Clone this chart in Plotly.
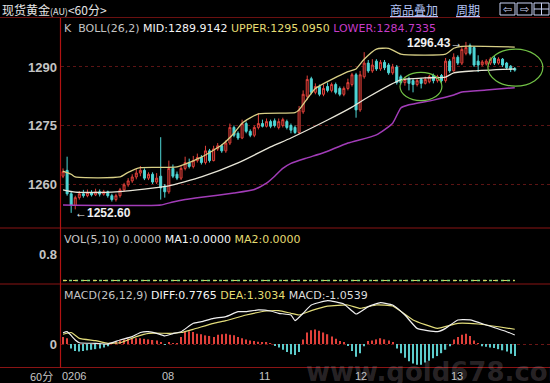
import plotly.graph_objects as go

# ---------------- data ----------------
idx = list(range(112))  # 60-minute bars

open_ = [1262.0, 1263.5, 1257.5, 1254.5, 1256.5, 1257.5, 1257.0, 1257.8, 1257.2, 1258.0,
         1257.4, 1258.0, 1257.0, 1256.0, 1257.0, 1258.5, 1259.8, 1260.8, 1261.8, 1262.8,
         1263.5, 1261.5, 1262.5, 1260.5, 1262.0, 1259.5, 1258.0, 1264.0, 1262.5, 1261.5,
         1264.0, 1265.5, 1264.5, 1266.0, 1266.8, 1265.5, 1268.5, 1266.0, 1269.0, 1269.8,
         1268.5, 1270.5, 1274.5, 1273.0, 1271.8, 1275.5, 1273.5, 1272.5, 1274.5, 1275.5,
         1274.8, 1276.0, 1276.2, 1274.5, 1275.0, 1276.0, 1275.0, 1274.5, 1273.2, 1278.5,
         1282.5, 1287.0, 1283.5, 1285.0, 1283.0, 1285.0, 1284.0, 1285.5, 1284.5, 1283.0,
         1284.5, 1285.5, 1288.0, 1279.0, 1287.5, 1291.0, 1289.0, 1291.5, 1289.5, 1291.2,
         1290.5, 1288.5, 1290.0, 1287.5, 1286.0, 1287.0, 1286.5, 1285.5, 1286.8, 1285.8,
         1286.2, 1287.8, 1286.5, 1287.8, 1286.5, 1291.5, 1289.0, 1292.5, 1291.0, 1293.5,
         1295.5, 1295.0, 1291.5, 1290.6, 1290.8, 1291.0, 1292.3, 1291.0, 1292.0, 1291.0,
         1290.2, 1289.6]
close_ = [1263.2, 1257.5, 1254.5, 1256.5, 1257.5, 1257.0, 1257.8, 1257.2, 1258.0, 1257.4,
          1258.0, 1257.0, 1256.0, 1257.0, 1258.5, 1259.8, 1260.8, 1261.8, 1262.8, 1263.5,
          1261.5, 1262.5, 1260.5, 1261.5, 1259.0, 1258.0, 1264.0, 1262.0, 1261.5, 1264.0,
          1265.5, 1264.5, 1266.0, 1266.8, 1265.5, 1268.5, 1266.0, 1269.0, 1269.8, 1268.5,
          1270.5, 1274.5, 1272.5, 1271.8, 1275.5, 1273.5, 1272.5, 1274.5, 1275.5, 1274.8,
          1276.0, 1274.8, 1275.0, 1276.0, 1276.5, 1274.5, 1273.8, 1273.2, 1279.0, 1283.0,
          1286.8, 1283.5, 1285.0, 1283.0, 1284.5, 1284.0, 1285.5, 1283.5, 1283.0, 1284.5,
          1286.0, 1288.0, 1279.0, 1288.0, 1291.0, 1289.0, 1290.5, 1289.5, 1291.2, 1289.8,
          1288.5, 1290.0, 1286.0, 1286.0, 1286.8, 1285.8, 1285.5, 1286.5, 1285.8, 1286.8,
          1287.5, 1286.5, 1287.5, 1286.5, 1291.5, 1289.0, 1292.5, 1291.0, 1294.5, 1295.0,
          1293.5, 1290.5, 1290.5, 1291.3, 1291.5, 1292.0, 1291.0, 1292.0, 1290.5, 1289.8,
          1289.4, 1289.2]
high_ = [1264.0, 1267.0, 1258.0, 1257.0, 1258.2, 1258.5, 1258.6, 1258.4, 1258.8, 1258.6,
         1258.5, 1258.3, 1257.5, 1257.5, 1259.0, 1260.3, 1261.5, 1262.5, 1263.8, 1264.6,
         1264.0, 1263.0, 1263.0, 1262.8, 1272.0, 1260.0, 1266.0, 1265.0, 1263.2, 1264.8,
         1267.0, 1266.5, 1267.2, 1267.8, 1267.4, 1269.8, 1269.0, 1269.8, 1270.5, 1270.2,
         1271.2, 1275.5, 1275.0, 1273.5, 1276.5, 1276.0, 1274.0, 1275.0, 1278.2, 1276.5,
         1276.8, 1276.5, 1276.8, 1276.8, 1277.0, 1276.5, 1275.5, 1275.0, 1280.0, 1284.0,
         1287.8, 1287.5, 1285.8, 1285.5, 1285.5, 1286.0, 1286.0, 1286.0, 1285.0, 1285.0,
         1287.0, 1288.5, 1288.5, 1289.0, 1293.8, 1291.8, 1292.0, 1292.0, 1291.8, 1291.8,
         1291.0, 1290.8, 1290.5, 1288.0, 1287.5, 1287.5, 1287.0, 1287.0, 1287.2, 1287.5,
         1288.0, 1288.3, 1288.0, 1288.2, 1292.3, 1292.0, 1293.5, 1293.0, 1295.1, 1296.43,
         1296.0, 1295.3, 1293.0, 1291.8, 1292.0, 1292.5, 1292.8, 1292.5, 1292.3, 1291.3,
         1290.5, 1290.0]
low_ = [1261.5, 1257.0, 1252.6, 1253.5, 1256.0, 1256.5, 1256.6, 1256.8, 1256.9, 1256.8,
        1257.0, 1256.5, 1255.5, 1255.5, 1256.5, 1258.0, 1259.3, 1260.3, 1261.2, 1262.0,
        1261.0, 1261.0, 1260.0, 1260.0, 1256.0, 1256.5, 1257.5, 1261.5, 1261.0, 1261.0,
        1263.5, 1264.0, 1264.0, 1265.5, 1265.0, 1265.0, 1265.5, 1265.8, 1268.5, 1268.0,
        1268.0, 1270.0, 1272.0, 1271.3, 1271.5, 1273.0, 1272.0, 1272.0, 1274.0, 1274.5,
        1274.5, 1274.3, 1274.5, 1274.0, 1274.5, 1274.0, 1273.0, 1272.8, 1272.8, 1278.0,
        1281.5, 1283.0, 1283.0, 1282.5, 1282.5, 1283.5, 1283.5, 1283.0, 1282.5, 1282.5,
        1284.0, 1285.0, 1277.0, 1278.5, 1287.0, 1288.5, 1288.5, 1289.0, 1289.0, 1289.2,
        1288.0, 1288.0, 1285.5, 1285.5, 1285.2, 1284.0, 1283.5, 1285.0, 1284.5, 1285.5,
        1285.8, 1285.8, 1286.0, 1286.0, 1286.0, 1288.5, 1288.8, 1290.5, 1290.5, 1293.0,
        1293.0, 1290.0, 1288.7, 1290.2, 1290.4, 1290.5, 1290.5, 1290.6, 1290.0, 1289.3,
        1288.7, 1288.8]

# Bollinger bands (read at sample bars)
upper_x = [0, 2, 3, 14, 16, 19, 28, 34, 39, 42, 44, 48, 57, 58, 62, 70, 72, 74, 77, 80, 83, 94, 96, 98, 111]
upper_y = [1263.3, 1262.5, 1261.8, 1261.8, 1263.0, 1264.2, 1264.4, 1266.9, 1270.0, 1273.0, 1275.6, 1278.0,
           1278.3, 1279.0, 1284.5, 1288.8, 1289.5, 1292.0, 1294.6, 1294.8, 1293.3, 1293.3, 1294.8, 1295.3, 1295.1]
mid_x = [0, 3, 12, 24, 26, 34, 43, 51, 56, 65, 71, 75, 83, 89, 94, 96, 101, 111]
mid_y = [1258.5, 1257.9, 1257.9, 1259.2, 1259.5, 1261.8, 1265.4, 1269.5, 1271.8, 1276.4, 1279.7, 1282.3,
         1286.7, 1287.2, 1287.4, 1288.5, 1289.0, 1289.5]
lower_x = [0, 24, 27, 30, 34, 42, 47, 50, 52, 54, 56, 60, 64, 70, 77, 81, 83, 85, 91, 96, 98, 104, 111]
lower_y = [1254.6, 1254.6, 1255.4, 1256.0, 1256.6, 1257.7, 1258.6, 1260.2, 1262.0, 1264.0, 1265.3, 1266.7,
           1268.0, 1270.5, 1272.6, 1275.6, 1279.5, 1280.3, 1281.5, 1282.8, 1283.6, 1284.1, 1284.7]

# Volume (all zero in the source)
vol = [0.0] * 112

# MACD
diff_x = [0, 1, 3, 4, 8, 11, 14, 17, 19, 21, 23, 25, 27, 29, 32, 34, 37, 40, 43, 45, 48, 51, 53, 56, 57,
          59, 61, 65, 69, 72, 75, 78, 81, 84, 87, 92, 94, 97, 100, 104, 109, 111]
diff_y = [0.98, 1.07, 0.35, 0.11, 0.06, 0.0, 0.35, 0.64, 1.0, 1.07, 0.93, 0.7, 0.9, 1.07, 1.8, 1.94, 2.23,
          2.38, 2.81, 2.81, 2.96, 2.87, 2.67, 2.52, 2.03, 2.67, 3.39, 3.77, 3.48, 2.61, 3.25, 3.59, 3.39,
          2.52, 1.36, 1.07, 1.36, 2.09, 2.09, 1.65, 1.07, 0.78]
dea_x = [0, 2, 4, 8, 11, 14, 18, 21, 26, 29, 32, 37, 40, 45, 50, 53, 56, 58, 61, 65, 70, 73, 77, 81, 86,
         92, 97, 102, 107, 111]
dea_y = [0.85, 1.0, 0.49, 0.29, 0.06, 0.11, 0.64, 0.93, 0.93, 1.0, 1.28, 1.8, 2.03, 2.52, 2.87, 2.9, 2.67,
         2.52, 2.9, 3.3, 3.39, 3.1, 3.39, 3.3, 2.09, 1.36, 1.8, 1.74, 1.5, 1.28]
macd_hist = [0.6, 0.5, -0.4, -0.6, -0.65, -0.6, -0.55, -0.5, -0.45, -0.4,
             -0.3, -0.2, 0.05, 0.15, 0.3, 0.4, 0.45, 0.5, 0.5, 0.5,
             0.45, 0.4, 0.35, 0.3, 0.15, -0.05, 0.1, 0.05, 0.02, 0.6,
             1.05, 1.1, 1.05, 0.9, 0.85, 0.75, 0.7, 0.6, 0.8, 0.85,
             0.9, 0.8, 0.75, 0.6, 0.5, 0.4, 0.3, 0.25, 0.2, 0.15,
             0.1, 0.05, -0.1, -0.3, -0.5, -0.7, -0.9, -0.95, -0.7, 0.4,
             1.0, 1.2, 1.25, 1.15, 1.0, 0.85, 0.65, 0.45, 0.25, 0.1,
             -0.1, -0.6, -1.1, -0.8, -0.2, 0.25, 0.3, 0.4, 0.5, 0.4,
             0.3, 0.1, -0.4, -0.8, -1.2, -1.5, -1.7, -1.8, -1.8, -1.6,
             -1.45, -1.25, -1.05, -0.8, -0.5, -0.2, 0.4, 0.6, 0.8, 0.9,
             0.7, 0.3, 0.05, -0.2, -0.25, -0.3, -0.35, -0.45, -0.55, -0.65,
             -0.85, -1.05]

price_ticks = [1260, 1275, 1290]
vol_ticks = [0.8]
macd_ticks = [0]
day_ticks = [2.6, 25.8, 49.6, 73.2, 96.8]
day_labels = ["0206", "08", "11", "12", "13"]

low_label = "←1252.60"
high_label = "1296.43→"

# ---------------- figure ----------------
W, H = 550, 383
ML, MR, MT, MB = 61, 0, 18, 16
PW, PH = W - ML - MR, H - MT - MB


def px(xp):
    return (xp - ML) / PW


def py(yp):
    return (H - MB - yp) / PH


RED = "#e0403a"
CYAN = "#4fd6d6"
GRIDRED = "#5c1414"
SEP = "#8a1414"
LABEL = "#c4c4c4"

fig = go.Figure()

fig.add_trace(go.Candlestick(
    x=idx, open=open_, high=high_, low=low_, close=close_,
    increasing=dict(line=dict(color=RED, width=1), fillcolor="#3a0e0c"),
    decreasing=dict(line=dict(color=CYAN, width=1), fillcolor=CYAN),
    whiskerwidth=0, showlegend=False, hoverinfo="skip", xaxis="x", yaxis="y"))

fig.add_trace(go.Scatter(x=upper_x, y=upper_y, mode="lines", line=dict(color="#d8cf86", width=1.3, shape="spline", smoothing=0.5),
                         showlegend=False, hoverinfo="skip", yaxis="y"))
fig.add_trace(go.Scatter(x=mid_x, y=mid_y, mode="lines", line=dict(color="#e8e6d8", width=1.3, shape="spline", smoothing=0.5),
                         showlegend=False, hoverinfo="skip", yaxis="y"))
fig.add_trace(go.Scatter(x=lower_x, y=lower_y, mode="lines", line=dict(color="#a23cb8", width=1.5, shape="spline", smoothing=0.5),
                         showlegend=False, hoverinfo="skip", yaxis="y"))

# volume panel
fig.add_trace(go.Scatter(x=idx, y=vol, mode="lines", line=dict(color="#7fe07f", width=1.5, dash="dot"),
                         showlegend=False, hoverinfo="skip", yaxis="y2"))
fig.add_trace(go.Scatter(x=idx, y=vol, mode="lines", line=dict(color="#e0d060", width=1, dash="4px,6px"),
                         showlegend=False, hoverinfo="skip", yaxis="y2"))

# MACD panel
fig.add_trace(go.Bar(x=idx, y=macd_hist, width=0.3,
                     marker=dict(color=[RED if v >= 0 else "#5ccbcb" for v in macd_hist], line=dict(width=0)),
                     showlegend=False, hoverinfo="skip", yaxis="y3"))
fig.add_trace(go.Scatter(x=dea_x, y=dea_y, mode="lines", line=dict(color="#e2dc7a", width=1.2, shape="spline", smoothing=0.4),
                         showlegend=False, hoverinfo="skip", yaxis="y3"))
fig.add_trace(go.Scatter(x=diff_x, y=diff_y, mode="lines", line=dict(color="#f0f0f0", width=1.2, shape="spline", smoothing=0.4),
                         showlegend=False, hoverinfo="skip", yaxis="y3"))

tickfont = dict(family="Liberation Sans", size=13, color=LABEL, weight="bold")

fig.update_layout(
    width=W, height=H,
    margin=dict(l=ML, r=MR, t=MT, b=MB),
    paper_bgcolor="#000000", plot_bgcolor="#000000",
    showlegend=False, hovermode=False,
    xaxis=dict(range=[-0.5, (W - 63) / 4.07], anchor="y3", showgrid=False, zeroline=False, showline=False,
               showticklabels=False, ticks="",
               rangeslider=dict(visible=False), fixedrange=True),
    yaxis=dict(domain=[py(228), 1.0], range=[1248.72, 1302.56], tickvals=price_ticks, ticks="",
               ticklabelstandoff=3,
               showgrid=True, gridcolor=GRIDRED, griddash="dot", gridwidth=1, zeroline=False, showline=False,
               tickfont=tickfont, anchor="x"),
    yaxis2=dict(domain=[py(284), py(228)], range=[-0.106, 1.586], tickvals=vol_ticks, ticks="",
                ticklabelstandoff=3,
                tickformat=".1f", showgrid=False, zeroline=False, showline=False, tickfont=tickfont, anchor="x"),
    yaxis3=dict(domain=[0.0, py(284)], range=[-2.0, 5.217], tickvals=macd_ticks, ticks="",
                ticklabelstandoff=3,
                showgrid=True, gridcolor="#6a1616", griddash="dot", zeroline=False, showline=False,
                tickfont=tickfont, anchor="x"),
)

shapes = []
# horizontal panel separators across the full width
for yp, col in [(17.5, "#6a1010"), (228, SEP), (284, SEP), (367.5, SEP)]:
    shapes.append(dict(type="line", xref="paper", yref="paper", x0=px(0), x1=px(W), y0=py(yp), y1=py(yp),
                       line=dict(color=col, width=1.2)))
# vertical axis line
shapes.append(dict(type="line", xref="paper", yref="paper", x0=px(60.5), x1=px(60.5), y0=py(18), y1=py(368),
                   line=dict(color="#b01212", width=1.2)))
# green hand-drawn ellipses
shapes.append(dict(type="circle", xref="x", yref="y", x0=82.8, x1=93.1, y0=1281.4, y1=1288.6,
                   line=dict(color="#72c246", width=1.2)))
shapes.append(dict(type="circle", xref="x", yref="y", x0=104.4, x1=117.9, y0=1285.1, y1=1294.6,
                   line=dict(color="#72c246", width=1.2)))
# toolbar icons
for x0 in [500, 517, 534]:
    shapes.append(dict(type="rect", xref="paper", yref="paper", x0=px(x0), x1=px(x0 + 15), y0=py(15), y1=py(3),
                       line=dict(color="#c8d2f4", width=1)))
shapes.append(dict(type="line", xref="paper", yref="paper", x0=px(541.5), x1=px(541.5), y0=py(15), y1=py(3),
                   line=dict(color="#c8d2f4", width=1)))
shapes.append(dict(type="line", xref="paper", yref="paper", x0=px(534), x1=px(549), y0=py(9), y1=py(9),
                   line=dict(color="#c8d2f4", width=1)))

fig.update_layout(shapes=shapes)

ann = []


def txt(xp, yp, text, size=11, color=LABEL, family="DejaVu Sans", xanchor="left", weight="normal"):
    ann.append(dict(xref="paper", yref="paper", x=px(xp), y=py(yp), text=text, showarrow=False,
                    xanchor=xanchor, yanchor="middle",
                    font=dict(family=family, size=size, color=color, weight=weight)))


CJK = "Noto Sans CJK SC"
# watermark first so that other texts lie above it
txt(440, 372, "www.gold678.com", size=26, color="rgba(205,185,195,0.20)", family="DejaVu Sans",
    xanchor="center", weight="bold")

txt(0, 9, '现货黄金<span style="font-size:9px">(AU)</span>&lt;60分&gt;', size=12, color="#e6e6e6", family=CJK)
txt(388, 9, "<u>商品叠加</u>", size=12, color="#b4c4f6", family=CJK)
txt(454, 9, "<u>周期</u>", size=12, color="#b4c4f6", family=CJK)
txt(507.5, 9, "⇦", size=11, color="#c8d2f4", xanchor="center")
txt(524.5, 9, "⇨", size=11, color="#c8d2f4", xanchor="center")

txt(62, 28, 'K&nbsp; BOLL(26,2) <span style="color:#f4f4f4">MID:1289.9142</span> '
            '<span style="color:#e4dc72">UPPER:1295.0950</span> '
            '<span style="color:#c63cc8">LOWER:1284.7335</span>')
txt(62, 239, 'VOL(5,10) 0.0000 <span style="color:#f4f4f4">MA1:0.0000</span> '
             '<span style="color:#e4dc72">MA2:0.0000</span>')
txt(62, 295, 'MACD(26,12,9) <span style="color:#f4f4f4">DIFF:0.7765</span> '
             '<span style="color:#e4dc72">DEA:1.3034</span> '
             '<span style="color:#dcdcdc">MACD:-1.0539</span>')
txt(41, 376, "60分", size=11, color=LABEL, family=CJK, xanchor="center")

# day labels on the time axis
for t, lab in zip(day_ticks, day_labels):
    ann.append(dict(xref="x", yref="paper", x=t, y=py(376), text=lab, showarrow=False, xanchor="center",
                    yanchor="middle", font=dict(family="Liberation Sans", size=11, color=LABEL)))

# low / high markers
ann.append(dict(xref="x", yref="y", x=2, y=1252.6, text=low_label, showarrow=False, xanchor="left",
                yanchor="middle", xshift=2, font=dict(family="Liberation Sans", size=12, color="#f0f0f0", weight="bold")))
ann.append(dict(xref="x", yref="y", x=99, y=1296.43, text=high_label, showarrow=False, xanchor="right",
                yanchor="middle", xshift=-2, yshift=-1,
                font=dict(family="Liberation Sans", size=12, color="#f0f0f0", weight="bold")))

fig.update_layout(annotations=ann)

fig.write_html("out.html", config={"displayModeBar": False},
               post_script="document.body.style.margin='0';document.body.style.overflow='hidden';")
